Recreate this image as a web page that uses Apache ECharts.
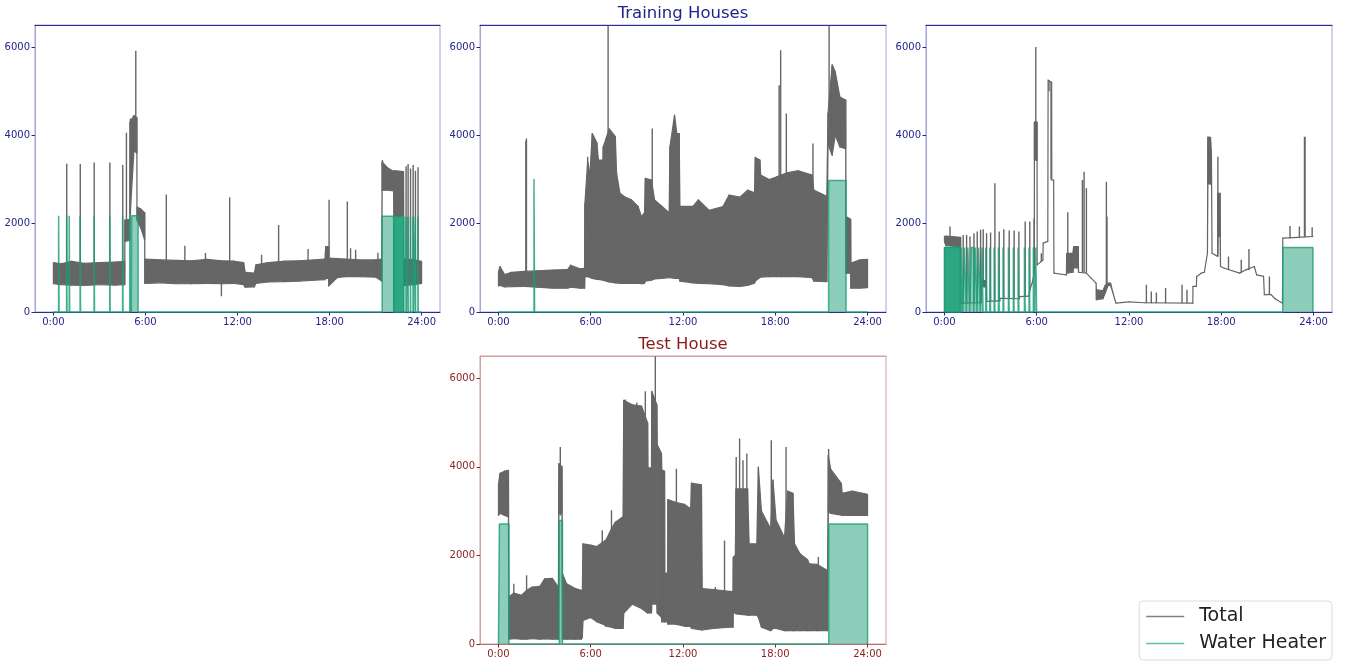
<!DOCTYPE html>
<html>
<head>
<meta charset="utf-8">
<title>Training Houses / Test House</title>
<script src="https://cdn.jsdelivr.net/npm/echarts@6/dist/echarts.min.js"></script>
<style>
  html, body { margin: 0; padding: 0; background: #ffffff; }
  #chart { width: 1350px; height: 662px; }
</style>
</head>
<body>
<div id="chart"></div>
<script>
// Axis ticks
const HOUR_TICKS = [0, 6, 12, 18, 24];
const POWER_TICKS = [0, 2000, 4000, 6000];

// Total consumption envelope per house: [hour, low, high] (W)
const house1Band = [
  [0.0, 640, 1120], [0.5, 620, 1090], [1.2, 610, 1150], [2.0, 600, 1100], [3.0, 620, 1120],
  [4.0, 610, 1130], [4.65, 620, 1150], [4.66, 1600, 2080], [4.98, 1620, 2100], [5.0, 2200, 4300],
  [5.25, 3650, 4450], [5.44, 3600, 4400], [5.45, 2080, 2380], [5.7, 1900, 2330], [5.95, 1630, 2250],
  [5.96, 650, 1200], [7.0, 660, 1180], [8.0, 640, 1170], [9.0, 640, 1160], [10.0, 650, 1190],
  [11.0, 640, 1160], [11.8, 650, 1150], [12.4, 620, 1120], [12.5, 560, 900], [13.1, 570, 880],
  [13.2, 650, 1070], [14.0, 680, 1120], [15.0, 690, 1150], [16.0, 700, 1160], [17.0, 720, 1180],
  [17.7, 730, 1200], [17.75, 760, 1480], [17.93, 760, 1480], [17.95, 590, 1220], [18.5, 780, 1210],
  [19.0, 800, 1200], [20.0, 800, 1180], [21.0, 790, 1180], [21.4, 700, 1200], [21.43, 2760, 3400],
  [21.8, 2760, 3260], [22.18, 2740, 3180], [22.2, 2160, 3200], [22.82, 2160, 3180], [22.84, 600, 1200],
  [23.5, 620, 1180], [24.0, 650, 1150]
];
// Short bursts of total consumption: [hour, from, to] (W)
const house1Peaks = [
  [0.87, 1000, 3360], [1.75, 1000, 3350], [2.66, 1000, 3385], [3.68, 1000, 3385], [4.52, 1000, 3330],
  [4.76, 2000, 4060], [5.02, 2200, 4385], [5.37, 4000, 5915], [7.36, 1100, 2660], [8.57, 1100, 1500],
  [9.91, 1100, 1335], [10.95, 355, 700], [11.49, 1100, 2600], [13.57, 1000, 1295], [14.68, 1100, 1973],
  [16.6, 1100, 1424], [17.97, 1200, 2540], [19.16, 1150, 2500], [19.37, 1150, 1445], [19.7, 1150, 1410],
  [21.15, 1150, 1340], [21.45, 3200, 3440], [22.99, 1100, 3300], [23.12, 1100, 3350], [23.28, 1100, 3250],
  [23.45, 1100, 3330], [23.6, 1100, 3200], [23.77, 1100, 3280]
];
// Water heater on-periods: [start hour, end hour, power W]
const house1Heater = [
  [0.34, 0.37, 2180], [0.86, 0.89, 2170], [1.03, 1.06, 2180], [1.74, 1.77, 2170], [2.65, 2.68, 2170],
  [3.67, 3.70, 2170], [4.51, 4.54, 2170], [4.98, 5.08, 2180], [5.1, 5.52, 2180], [21.43, 22.18, 2170],
  [22.98, 23.0, 2160], [23.11, 23.13, 2160], [23.27, 23.29, 2160], [23.44, 23.46, 2160], [23.59, 23.61, 2160],
  [23.76, 23.78, 2160]
];
// Water heater rapid on/off cycling: [start hour, end hour, power W]
const house1Cycling = [[22.2, 22.84, 2160]];

const house2Band = [
  [0.0, 590, 900], [0.1, 600, 1030], [0.4, 570, 850], [0.85, 575, 900], [1.7, 580, 920],
  [2.5, 560, 930], [3.5, 540, 950], [4.5, 540, 960], [4.7, 560, 1060], [5.3, 540, 980],
  [5.6, 540, 990], [5.62, 800, 2450], [5.8, 800, 3400], [5.95, 780, 3140], [6.1, 760, 4040],
  [6.4, 740, 3830], [6.5, 740, 3440], [6.8, 720, 3440], [6.81, 720, 3740], [7.0, 700, 3930],
  [7.2, 680, 4150], [7.6, 660, 3970], [7.68, 660, 3140], [7.9, 650, 2690], [8.2, 650, 2610],
  [8.65, 650, 2540], [9.08, 650, 2390], [9.3, 640, 2160], [9.5, 650, 2250], [9.55, 700, 3025],
  [9.95, 720, 2990], [10.15, 750, 2540], [10.6, 760, 2400], [11.1, 780, 2250], [11.15, 780, 3740],
  [11.45, 760, 4457], [11.6, 760, 4040], [11.75, 760, 4040], [11.8, 700, 2390], [12.65, 660, 2390],
  [13.0, 650, 2540], [13.7, 640, 2300], [14.6, 620, 2390], [15.0, 590, 2650], [15.7, 580, 2600],
  [16.2, 600, 2760], [16.65, 650, 2700], [16.7, 700, 3500], [17.0, 780, 3440], [17.05, 790, 3100],
  [17.6, 800, 3000], [18.1, 800, 3060], [18.4, 800, 3100], [18.75, 800, 3150], [19.5, 800, 3200],
  [20.4, 780, 3100], [20.5, 700, 2760], [21.35, 690, 2620], [21.43, 3800, 4500], [21.7, 3550, 5600],
  [21.9, 4000, 5440], [22.2, 3740, 4870], [22.58, 3700, 4800], [22.6, 880, 2160], [22.9, 880, 2100],
  [22.92, 540, 1110], [23.5, 540, 1180], [24.0, 550, 1190]
];
const house2Peaks = [
  [1.78, 900, 3880], [1.82, 900, 3930], [5.8, 800, 3515], [7.13, 3000, 6490], [10.0, 2500, 4156],
  [18.25, 2800, 5135], [18.35, 2800, 5927], [18.72, 2800, 4496], [20.45, 2500, 3817], [21.5, 4000, 6490]
];
const house2Heater = [
  [2.31, 2.35, 3012], [21.47, 22.6, 2980]
];
const house2Cycling = [];

const house3Band = [
  [0.0, 1590, 1710], [0.1, 1500, 1720], [1.05, 1480, 1690], [1.07, 200, 200], [2.38, 210, 210],
  [2.4, 580, 730], [2.72, 560, 700], [2.74, 240, 240], [3.6, 250, 250], [3.62, 310, 310],
  [4.85, 300, 300], [4.9, 350, 350], [5.5, 360, 360], [5.55, 500, 500], [5.7, 650, 650],
  [5.84, 880, 880], [5.85, 3440, 4300], [6.02, 3440, 4300], [6.03, 1070, 1070], [6.25, 1130, 1130],
  [6.4, 1180, 1180], [6.42, 1560, 1560], [6.72, 1600, 1600], [6.74, 5250, 5250], [6.97, 5200, 5200],
  [6.98, 2990, 2990], [7.1, 2990, 2990], [7.12, 880, 880], [7.5, 860, 860], [7.93, 840, 840],
  [7.95, 880, 1330], [8.35, 900, 1330], [8.4, 1000, 1480], [8.7, 1000, 1480], [8.72, 900, 900],
  [9.23, 880, 880], [9.5, 780, 780], [9.86, 655, 655], [9.88, 280, 505], [10.3, 300, 480],
  [10.45, 430, 600], [10.64, 600, 655], [10.8, 600, 655], [10.96, 430, 430], [11.15, 200, 200],
  [12.0, 230, 230], [13.0, 210, 210], [16.15, 200, 200], [16.16, 580, 580], [16.38, 580, 580],
  [16.4, 805, 805], [16.7, 880, 880], [16.9, 900, 900], [17.1, 1330, 1330], [17.13, 2900, 3960],
  [17.3, 2900, 3950], [17.36, 3400, 3590], [17.4, 1330, 1330], [17.76, 1260, 1260], [17.78, 1710, 2690],
  [17.92, 1710, 2690], [17.95, 1030, 1030], [18.2, 990, 990], [19.2, 880, 880], [19.6, 955, 955],
  [20.15, 1030, 1030], [20.3, 840, 840], [20.75, 805, 805], [20.8, 392, 392], [21.24, 392, 392],
  [21.5, 300, 300], [21.98, 200, 200], [22.0, 1672, 1672], [23.0, 1690, 1690], [23.96, 1710, 1710]
];
const house3Peaks = [
  [0.36, 1700, 1935], [1.22, 200, 1745], [1.44, 200, 1745], [1.66, 200, 1710], [1.92, 200, 1785],
  [2.13, 200, 1823], [2.35, 200, 1860], [2.52, 600, 1875], [2.74, 240, 1785], [3.0, 240, 1800],
  [3.28, 240, 2915], [3.56, 250, 1823], [3.86, 310, 1875], [4.21, 310, 1845], [4.53, 310, 1845],
  [4.84, 300, 1823], [5.25, 350, 2047], [5.55, 500, 2047], [5.83, 880, 2122], [5.94, 3500, 6002],
  [6.3, 1130, 1333], [6.8, 5000, 5250], [6.93, 3000, 5220], [8.02, 1000, 2258], [8.97, 900, 2990],
  [9.08, 900, 3178], [9.23, 880, 2800], [10.53, 600, 2952], [10.57, 600, 2160], [13.13, 200, 618],
  [13.45, 200, 467], [13.78, 200, 444], [14.38, 200, 542], [15.45, 200, 618], [15.77, 200, 505],
  [17.24, 2900, 3967], [17.78, 1260, 3515], [18.47, 950, 1258], [19.3, 900, 1183], [19.8, 950, 1424],
  [21.13, 392, 805], [22.47, 1672, 1950], [23.08, 1690, 1935], [23.41, 1700, 3967], [23.45, 1700, 3967],
  [23.91, 1700, 1920]
];
const house3Heater = [
  [1.1, 1.2, 1460], [1.3, 1.42, 1460], [1.52, 1.64, 1460], [1.75, 1.9, 1460],
  [2.0, 2.11, 1460], [2.22, 2.33, 1460], [2.45, 2.51, 1460], [2.69, 2.74, 1460], [2.95, 3.0, 1460],
  [3.23, 3.28, 1460], [3.51, 3.56, 1460], [3.81, 3.86, 1460], [4.16, 4.21, 1460], [4.48, 4.53, 1460],
  [4.79, 4.84, 1460], [5.2, 5.25, 1460], [5.5, 5.55, 1460], [5.78, 5.83, 1460], [5.94, 5.99, 1460],
  [22.0, 23.96, 1460]
];
const house3Cycling = [[0.0, 1.02, 1460]];

const house4Band = [
  [0.0, 2900, 3600], [0.1, 2950, 3850], [0.4, 2900, 3900], [0.65, 2870, 3920], [0.68, 110, 1060],
  [1.0, 120, 1150], [1.5, 110, 1100], [1.83, 110, 1210], [2.2, 120, 1285], [2.7, 110, 1300],
  [3.0, 115, 1470], [3.5, 110, 1480], [3.9, 110, 1285], [3.93, 2940, 4070], [4.13, 2940, 4000],
  [4.16, 110, 1585], [4.43, 110, 1360], [5.0, 110, 1250], [5.4, 110, 1210], [5.45, 150, 1060],
  [5.5, 530, 2260], [6.0, 600, 2230], [6.4, 500, 2200], [6.8, 450, 2300], [7.0, 400, 2350],
  [7.35, 380, 2600], [7.6, 350, 2750], [8.1, 350, 2870], [8.15, 700, 5500], [8.7, 900, 5400],
  [9.3, 800, 5370], [9.7, 700, 4990], [9.72, 700, 3975], [9.95, 700, 3975], [9.97, 900, 5700],
  [10.3, 900, 5400], [10.32, 700, 4500], [10.6, 600, 4300], [10.62, 500, 3935], [10.8, 500, 3900],
  [10.82, 500, 1600], [11.0, 500, 1600], [11.02, 450, 3260], [11.5, 450, 3200], [12.1, 400, 3150],
  [12.5, 400, 3050], [12.55, 350, 3630], [13.2, 320, 3590], [13.25, 320, 1250], [14.0, 350, 1230],
  [15.0, 380, 1190], [15.25, 380, 1180], [15.27, 700, 1960], [15.4, 700, 2000], [15.45, 680, 3500],
  [16.2, 650, 3500], [16.3, 650, 2260], [16.8, 650, 2260], [16.9, 600, 3990], [17.1, 380, 3000],
  [17.7, 300, 2600], [17.85, 350, 3700], [18.05, 350, 2800], [18.6, 300, 2400], [18.8, 300, 3450],
  [19.15, 300, 3400], [19.25, 300, 2260], [19.6, 300, 2040], [20.1, 300, 1900], [20.2, 300, 1810],
  [20.7, 300, 1800], [21.4, 300, 1660], [21.45, 2980, 4260], [21.6, 2950, 3950], [22.3, 2910, 3620],
  [22.35, 2900, 3400], [23.0, 2900, 3450], [24.0, 2900, 3380]
];
const house4Peaks = [
  [1.0, 900, 1360], [1.83, 900, 1550], [4.02, 2900, 4449], [6.75, 1500, 2565], [7.35, 2000, 3017],
  [8.25, 3000, 5518], [8.7, 3000, 5400], [9.0, 3000, 5450], [9.55, 3000, 5707], [10.2, 3000, 6497],
  [11.57, 2500, 3958], [14.1, 800, 1285], [14.7, 800, 2338], [15.46, 1000, 4222], [15.68, 1000, 4636],
  [15.9, 1000, 4146], [16.15, 1000, 4297], [17.74, 1500, 4599], [18.7, 1500, 4448], [20.8, 1000, 1962],
  [21.47, 3000, 4400]
];
const house4Heater = [
  [0.06, 0.68, 2710], [3.96, 4.16, 2790], [21.48, 24.0, 2710]
];
const house4Cycling = [];

const houses = [
  { band: house1Band, peaks: house1Peaks, heater: house1Heater, cycling: house1Cycling, test: false },
  { band: house2Band, peaks: house2Peaks, heater: house2Heater, cycling: house2Cycling, test: false },
  { band: house3Band, peaks: house3Peaks, heater: house3Heater, cycling: house3Cycling, test: false },
  { band: house4Band, peaks: house4Peaks, heater: house4Heater, cycling: house4Cycling, test: true }
];

// Panel placement
const grids = [
  { left: 35, top: 25, width: 405, height: 287 },
  { left: 480, top: 25, width: 406, height: 287 },
  { left: 926, top: 25, width: 406, height: 287 },
  { left: 480, top: 356, width: 406, height: 288 }
];

const FONT = 'DejaVu Sans';
const TOTAL_COLOR = '#666666';
const HEATER_COLOR = '#1b9e77';
const themes = {
  train: { label: '#24248a', side: '#a4a4da', top: '#2c2c8c', bottom: '#2c2c8c' },
  test:  { label: '#8b2424', side: '#d3a0a0', top: '#d3a0a0', bottom: '#b87070' }
};

// Consecutive envelope samples become quads [t0, lo0, hi0, t1, lo1, hi1]
function bandSegments(band) {
  const segs = [];
  for (let k = 0; k + 1 < band.length; k++) {
    const a = band[k], b = band[k + 1];
    segs.push([a[0], a[1], a[2], b[0], b[1], b[2]]);
  }
  return segs;
}
function renderBand(params, api) {
  const p0 = api.coord([api.value(0), api.value(1)]);
  const p1 = api.coord([api.value(0), api.value(2)]);
  const p2 = api.coord([api.value(3), api.value(5)]);
  const p3 = api.coord([api.value(3), api.value(4)]);
  return {
    type: 'polygon', silent: true,
    shape: { points: [p0, p1, p2, p3] },
    style: { fill: TOTAL_COLOR, stroke: TOTAL_COLOR, lineWidth: 1.2, lineJoin: 'round' }
  };
}
// On-periods become a step outline resting on zero from 0:00 to 24:00
function heaterPath(intervals) {
  const pts = [[0, 0]];
  intervals.forEach(([s, e, p]) => { pts.push([s, 0], [s, p], [e, p], [e, 0]); });
  pts.push([24, 0]);
  return pts;
}
function cyclingPath(intervals) {
  const pts = [];
  intervals.forEach(([s, e, p]) => { pts.push([s, 0], [s, p], [e, p], [e, 0], [e, '-']); });
  return pts;
}
function peakPath(peaks) {
  const pts = [];
  peaks.forEach(([t, a, b]) => { pts.push([t, a], [t, b], [t, '-']); });
  return pts;
}

const xAxes = [], yAxes = [], series = [];
houses.forEach((h, i) => {
  const th = h.test ? themes.test : themes.train;
  xAxes.push({
    type: 'value', gridIndex: i, min: -1.2, max: 25.2, position: 'bottom',
    axisLine: { show: true, onZero: false, lineStyle: { color: th.bottom, width: 1 } },
    axisTick: { show: true, customValues: HOUR_TICKS, length: 3.5, lineStyle: { color: th.label } },
    axisLabel: { customValues: HOUR_TICKS, formatter: v => v + ':00', color: th.label, fontSize: 10, fontFamily: FONT, margin: 5 },
    splitLine: { show: false }
  });
  yAxes.push({
    type: 'value', gridIndex: i, min: 0, max: 6500, position: 'left',
    axisLine: { show: true, onZero: false, lineStyle: { color: th.side, width: 1 } },
    axisTick: { show: true, customValues: POWER_TICKS, length: 3.5, lineStyle: { color: th.label } },
    axisLabel: { customValues: POWER_TICKS, formatter: v => String(v), color: th.label, fontSize: 10, fontFamily: FONT, margin: 5 },
    splitLine: { show: false }
  });
});
// Top spines
houses.forEach((h, i) => {
  const th = h.test ? themes.test : themes.train;
  xAxes.push({
    type: 'value', gridIndex: i, min: -1.2, max: 25.2, position: 'top',
    axisLine: { show: true, onZero: false, lineStyle: { color: th.top, width: 1 } },
    axisTick: { show: false }, axisLabel: { show: false }, splitLine: { show: false }
  });
});

houses.forEach((h, i) => {
  series.push({
    name: 'Total', type: 'custom', coordinateSystem: 'cartesian2d', xAxisIndex: i, yAxisIndex: i,
    data: bandSegments(h.band), encode: { x: [0, 3], y: [1, 2, 4, 5] },
    renderItem: renderBand, clip: true, z: 2, itemStyle: { color: TOTAL_COLOR }
  });
  series.push({
    name: 'Total', type: 'line', xAxisIndex: i, yAxisIndex: i,
    data: peakPath(h.peaks), symbol: 'none', connectNulls: false, z: 2,
    lineStyle: { color: TOTAL_COLOR, width: 1.4 }, itemStyle: { color: TOTAL_COLOR }
  });
});
houses.forEach((h, i) => {
  series.push({
    name: 'Water Heater', type: 'line', xAxisIndex: i, yAxisIndex: i,
    data: heaterPath(h.heater), symbol: 'none', z: 3, clip: false,
    lineStyle: { color: HEATER_COLOR, width: 1.5, opacity: 0.8 }, itemStyle: { color: HEATER_COLOR },
    areaStyle: { color: HEATER_COLOR, opacity: 0.5 }
  });
  if (h.cycling.length) {
    series.push({
      name: 'Water Heater', type: 'line', xAxisIndex: i, yAxisIndex: i,
      data: cyclingPath(h.cycling), symbol: 'none', connectNulls: false, z: 3,
      lineStyle: { color: HEATER_COLOR, width: 1.5 }, itemStyle: { color: HEATER_COLOR },
      areaStyle: { color: HEATER_COLOR, opacity: 0.92 }
    });
  }
});

const chart = echarts.init(document.getElementById('chart'), null, { renderer: 'canvas' });
chart.setOption({
  animation: false,
  backgroundColor: '#ffffff',
  textStyle: { fontFamily: FONT },
  title: [
    { text: 'Training Houses', left: 683, top: 5, textAlign: 'center', padding: 0,
      textStyle: { fontSize: 16.5, fontWeight: 'normal', color: '#22228c', fontFamily: FONT } },
    { text: 'Test House', left: 683, top: 336, textAlign: 'center', padding: 0,
      textStyle: { fontSize: 16.5, fontWeight: 'normal', color: '#8b1a1a', fontFamily: FONT } }
  ],
  legend: {
    orient: 'vertical', right: 18, top: 601,
    icon: 'rect', itemWidth: 38, itemHeight: 1.6, itemGap: 8,
    padding: [6, 6, 7, 7],
    borderColor: '#dcdcdc', borderWidth: 1, borderRadius: 4, backgroundColor: '#ffffff',
    selectedMode: false,
    textStyle: { fontSize: 19, color: '#222222', fontFamily: FONT, padding: [0, 0, 0, 10] },
    data: [
      { name: 'Total', itemStyle: { color: '#808080' } },
      { name: 'Water Heater', itemStyle: { color: '#5cc29f' } }
    ]
  },
  grid: grids.map((g, i) => Object.assign({
    show: true, borderColor: houses[i].test ? themes.test.side : themes.train.side,
    borderWidth: 1, backgroundColor: 'transparent', containLabel: false
  }, g)),
  xAxis: xAxes,
  yAxis: yAxes,
  series: series
});
</script>
</body>
</html>
